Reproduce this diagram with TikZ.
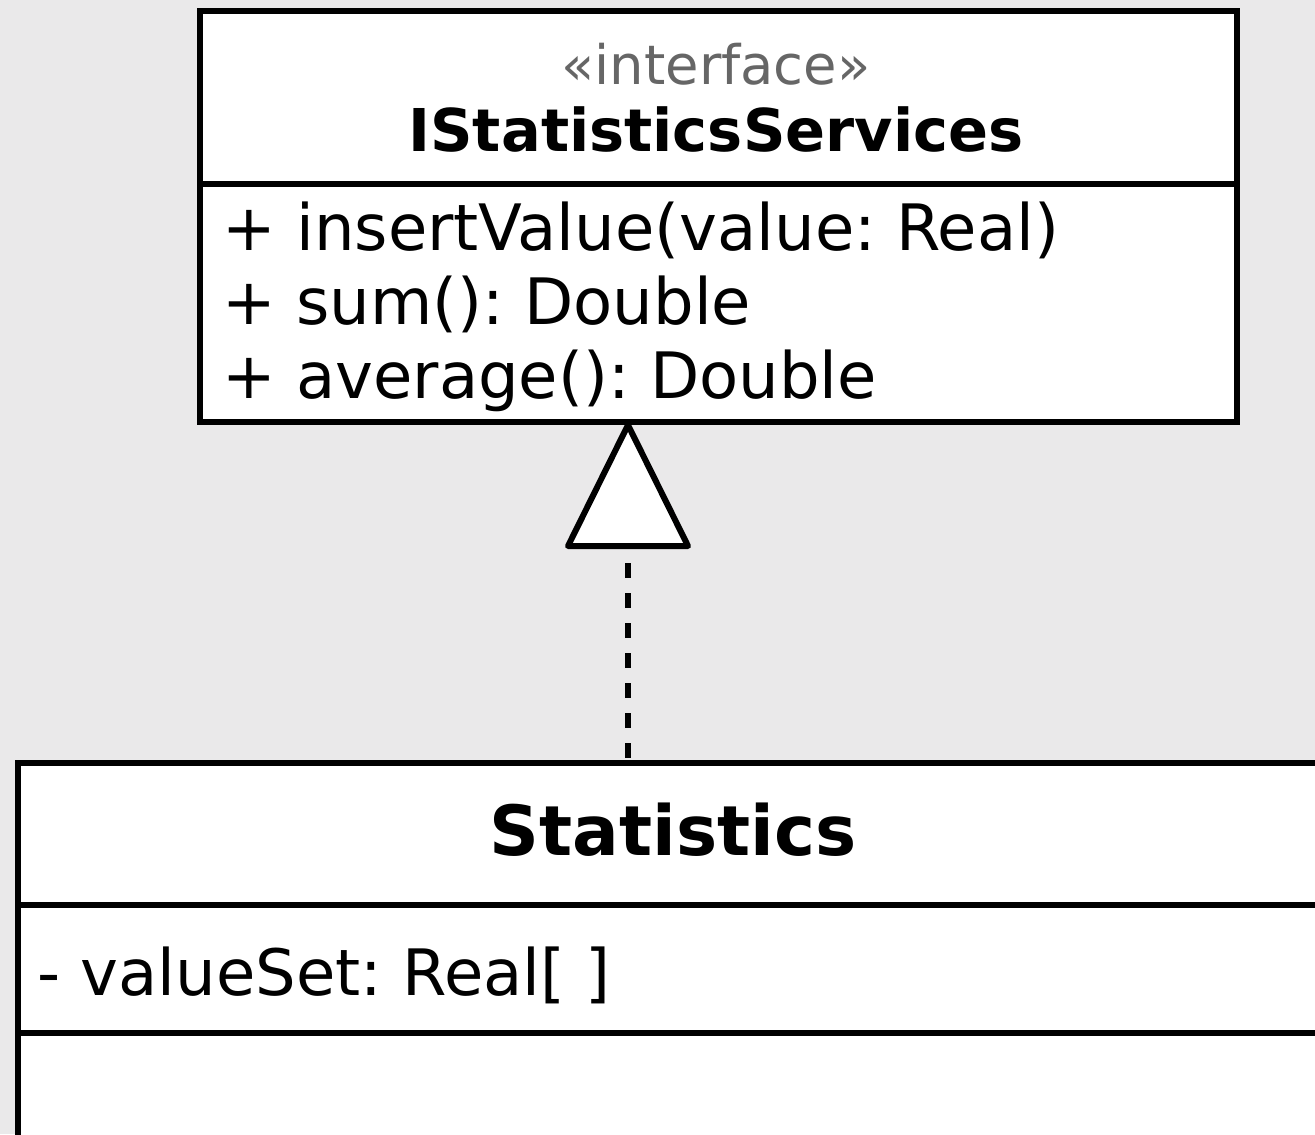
\documentclass[tikz,border=0pt]{standalone}
\usepackage{fontspec}
\setmainfont{DejaVu Sans}
\frenchspacing
\definecolor{bgcol}{HTML}{EAE9EA}
\definecolor{stereo}{HTML}{666666}
\begin{document}
\begin{tikzpicture}[x=0.5pt,y=-0.5pt,
  umlbox/.style={draw=black, line width=3pt, fill=white, rectangle, inner sep=0pt, anchor=north west},
  divider/.style={draw=black, line width=3pt},
  member/.style={inner sep=0pt, anchor=base west, font=\fontsize{32}{38}\selectfont},
  stereotype/.style={inner sep=0pt, anchor=base, text=stereo, font=\fontsize{27.2}{32}\selectfont},
  classname/.style={inner sep=0pt, anchor=base, font=\fontsize{29.5}{35}\selectfont\bfseries},
  realize/.style={draw=black, line width=3pt, dash pattern=on 7.5pt off 7.5pt},
  hollowtri/.style={draw=black, fill=white, line width=3pt, line join=round}]
\useasboundingbox (0,0) rectangle (1315,1134);
\fill[bgcol] (0,0) rectangle (1315,1134);
\begin{scope}
\clip (0,0) rectangle (1315,1134);
% interface box
\node[umlbox, minimum width=518.5pt, minimum height=205.5pt] (iface) at (197,8) {};
\draw[divider] (iface.west |- 0,184) -- (iface.east |- 0,184);
\node[stereotype] (ster) at (716,85) {«interface»};
\node[classname] (iname) at (716,152) {IStatisticsServices};
\node[member] (m1) at (222,250) {+ insertValue(value: Real)};
\node[member] (m2) at (222,324) {+ sum(): Double};
\node[member] (m3) at (222,398) {+ average(): Double};
% class box
\node[umlbox, minimum width=665pt, minimum height=210pt] (stat) at (15,760) {};
\draw[divider] (stat.west |- 0,905) -- (stat.east |- 0,905);
\draw[divider] (stat.west |- 0,1033) -- (stat.east |- 0,1033);
\node[classname, font=\fontsize{34.6}{40}\selectfont\bfseries] (sname) at (673,855) {Statistics};
\node[member] (a1) at (37,995) {- valueSet: Real[ ]};
% realization
\coordinate (apex) at (iface.south -| 628,0);
\coordinate (dashstart) at (628,563);
\coordinate (dashend) at (stat.north -| 628,0);
\draw[realize] (dashstart) -- (dashend);
\draw[hollowtri] (apex) -- (568,546) -- (688,546) -- cycle;
\end{scope}
\end{tikzpicture}
\end{document}
